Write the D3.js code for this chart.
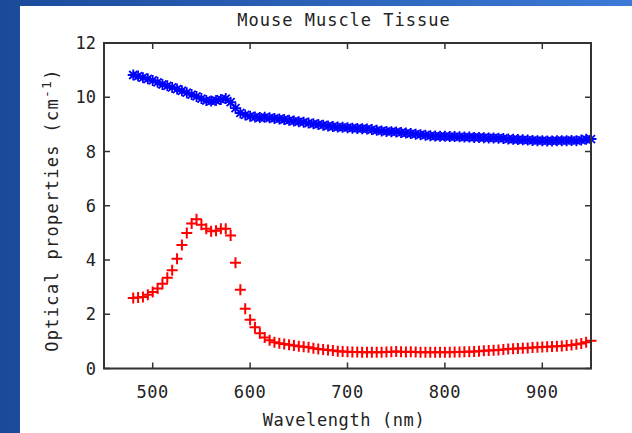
<!DOCTYPE html>
<html><head><meta charset="utf-8">
<script src="https://cdn.jsdelivr.net/npm/d3@7"></script>
<style>body{margin:0;background:#fff}svg{display:block}</style>
</head><body>
<svg id="c" width="632" height="433"></svg>
<script>
const wavelengths = [480,485,490,495,500,505,510,515,520,525,530,535,540,545,550,555,560,565,570,575,580,585,590,595,600,605,610,615,620,625,630,635,640,645,650,655,660,665,670,675,680,685,690,695,700,705,710,715,720,725,730,735,740,745,750,755,760,765,770,775,780,785,790,795,800,805,810,815,820,825,830,835,840,845,850,855,860,865,870,875,880,885,890,895,900,905,910,915,920,925,930,935,940,945,950];
const scattering = [10.82,10.78,10.72,10.68,10.62,10.55,10.47,10.42,10.36,10.30,10.24,10.17,10.10,10.03,9.95,9.88,9.86,9.88,9.92,9.95,9.82,9.60,9.42,9.35,9.30,9.27,9.25,9.26,9.24,9.22,9.20,9.18,9.15,9.12,9.10,9.08,9.05,9.02,9.00,8.97,8.94,8.92,8.90,8.89,8.88,8.86,8.85,8.84,8.83,8.81,8.78,8.76,8.74,8.73,8.72,8.70,8.68,8.66,8.64,8.62,8.60,8.58,8.57,8.56,8.56,8.55,8.55,8.54,8.53,8.53,8.52,8.52,8.51,8.50,8.50,8.49,8.48,8.46,8.45,8.44,8.43,8.42,8.41,8.40,8.40,8.39,8.39,8.40,8.40,8.40,8.41,8.40,8.42,8.45,8.46];
const absorption = [2.60,2.62,2.64,2.72,2.82,2.95,3.12,3.35,3.62,4.05,4.55,5.00,5.35,5.50,5.30,5.15,5.06,5.08,5.15,5.15,4.90,3.90,2.90,2.20,1.80,1.52,1.30,1.14,1.04,0.97,0.93,0.90,0.88,0.85,0.82,0.80,0.78,0.75,0.72,0.70,0.68,0.66,0.64,0.63,0.62,0.61,0.61,0.60,0.60,0.60,0.60,0.60,0.61,0.62,0.63,0.62,0.61,0.62,0.61,0.60,0.60,0.60,0.60,0.60,0.60,0.60,0.61,0.61,0.62,0.62,0.63,0.64,0.65,0.66,0.67,0.68,0.70,0.72,0.73,0.74,0.75,0.76,0.77,0.78,0.79,0.80,0.81,0.82,0.83,0.85,0.87,0.89,0.92,0.97,1.02];
const xTicks = [500,600,700,800,900];
const yTicks = [0,2,4,6,8,10,12];
const title = "Mouse Muscle Tissue";
const xLabel = "Wavelength (nm)";

const svg = d3.select("#c");
const W = 632, H = 433;
const defs = svg.append("defs");
const g1 = defs.append("linearGradient").attr("id","bg").attr("x1","0").attr("x2","1").attr("y1","0").attr("y2","0");
g1.append("stop").attr("offset","0").attr("stop-color","#1b4a9a");
g1.append("stop").attr("offset","1").attr("stop-color","#3b7ad6");
svg.append("rect").attr("width",W).attr("height",H).attr("fill","url(#bg)");
svg.append("rect").attr("x",20).attr("y",6).attr("width",W-20).attr("height",H-6).attr("fill","#fff");

const m = {l:104, r:591, t:43, b:368.5};
const x = d3.scaleLinear().domain([450,950]).range([m.l,m.r]);
const y = d3.scaleLinear().domain([0,12]).range([m.b,m.t]);
const font = "'DejaVu Sans Mono', monospace";
const axisCol = "#333";

// ticks
const tl = 6;
const tg = svg.append("g").attr("stroke",axisCol).attr("stroke-width",1.5);
xTicks.forEach(v=>{
  tg.append("line").attr("x1",x(v)).attr("x2",x(v)).attr("y1",m.b).attr("y2",m.b-tl);
  tg.append("line").attr("x1",x(v)).attr("x2",x(v)).attr("y1",m.t).attr("y2",m.t+tl);
});
yTicks.forEach(v=>{
  tg.append("line").attr("x1",m.l).attr("x2",m.l+tl).attr("y1",y(v)).attr("y2",y(v));
  tg.append("line").attr("x1",m.r).attr("x2",m.r-tl).attr("y1",y(v)).attr("y2",y(v));
});

// markers
const plusPath = "M-5.5,0H5.5M0,-5.5V5.5";
const starPath = "M-5.5,0H5.5M0,-5.5V5.5M-4,-4L4,4M-4,4L4,-4";
svg.append("g").selectAll("path").data(wavelengths).join("path")
  .attr("d",starPath).attr("transform",(d,i)=>`translate(${x(d)},${y(scattering[i])})`)
  .attr("stroke","#0000ff").attr("stroke-width",1.8).attr("fill","none");
svg.append("g").selectAll("path").data(wavelengths).join("path")
  .attr("d",plusPath).attr("transform",(d,i)=>`translate(${x(d)},${y(absorption[i])})`)
  .attr("stroke","#ff0000").attr("stroke-width",2).attr("fill","none");

// frame
svg.append("rect").attr("x",m.l).attr("y",m.t).attr("width",m.r-m.l).attr("height",m.b-m.t)
  .attr("fill","none").attr("stroke",axisCol).attr("stroke-width",2);

// tick labels
svg.append("g").selectAll("text").data(xTicks).join("text")
  .attr("x",d=>x(d)).attr("y",398).attr("text-anchor","middle")
  .attr("font-family",font).attr("font-size",17).attr("letter-spacing",0.6).attr("fill","#222")
  .text(d=>d);
svg.append("g").selectAll("text").data(yTicks).join("text")
  .attr("x",96).attr("y",d=>y(d)+6).attr("text-anchor","end")
  .attr("font-family",font).attr("font-size",17).attr("fill","#222")
  .text(d=>d);

svg.append("text").attr("x",344).attr("y",26).attr("text-anchor","middle")
  .attr("font-family",font).attr("font-size",17).attr("letter-spacing",1).attr("fill","#222").text(title);
svg.append("text").attr("x",344).attr("y",426).attr("text-anchor","middle")
  .attr("font-family",font).attr("font-size",17).attr("letter-spacing",0.6).attr("fill","#222").text(xLabel);

const yl = svg.append("text").attr("transform","translate(58,210) rotate(-90)").attr("text-anchor","middle")
  .attr("font-family",font).attr("font-size",17).attr("letter-spacing",1.3).attr("fill","#222");
yl.append("tspan").text("Optical properties (cm");
yl.append("tspan").attr("dy",-7).attr("font-size",13).text("-1");
yl.append("tspan").attr("dy",7).text(")");
</script>
</body></html>
